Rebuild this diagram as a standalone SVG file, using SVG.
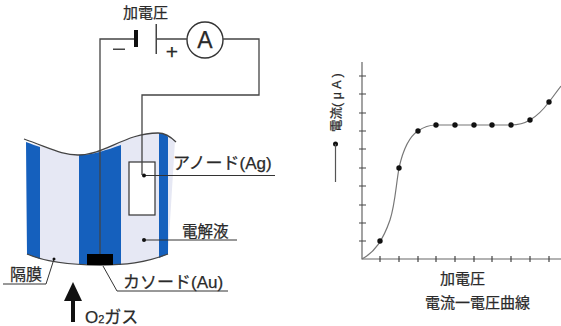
<svg xmlns="http://www.w3.org/2000/svg" width="561" height="326" viewBox="0 0 561 326">
<style>
text{font-family:"Liberation Sans","Noto Sans CJK JP",sans-serif;fill:#2a2a2a;stroke:#2a2a2a;stroke-width:.25}
.w{fill:none;stroke:#444;stroke-width:1.3}
.l{fill:none;stroke:#333;stroke-width:1}
.t{stroke:#444;stroke-width:1.2}
.d{fill:#111;stroke:none}
</style>
<rect width="561" height="326" fill="#fff"/>
<g id="membrane-cell">
<path d="M26 142C50 148 62 155 78 155C105 155 125 133 158 133C165 133 170 136 175 141L168 254C145 263 125 265 100 265C70 265 45 262 27 254Z" fill="#e6e8f4"/>
<path d="M26 142C32 144 36 146 40 147V259L27 254Z" fill="#1560bd"/>
<path d="M79 155C92 155 107 150 121 145V265L100 265L79 264Z" fill="#1560bd"/>
<path d="M159 133C163 133 166 134 168 137V254L159 258Z" fill="#1560bd"/>
<path d="M24 139C50 148 62 155 78 155C105 155 125 133 158 133C165 133 170 136 176 142" class="w"/>
<path d="M27 254C45 262 70 265 100 265C125 265 145 263 168 254" class="w"/>
</g>
<g id="anode"><rect x="129" y="162" width="26" height="53" fill="#fff" stroke="#333" stroke-width="1.2"/></g>
<g id="cathode"><rect x="87" y="254" width="26" height="11" fill="#000"/></g>
<g id="ammeter"><circle cx="205" cy="40" r="18" fill="#fff" stroke="#333" stroke-width="1.4"/><text x="205" y="48" text-anchor="middle" font-size="23">A</text></g>
<g id="battery"><rect x="134" y="30" width="4" height="17" fill="#111"/><rect x="155.500" y="24" width="1.500" height="30" fill="#444"/></g>
<g id="connectors">
<path class="w" d="M134 39H100V254"/>
<path class="w" d="M157 39H187M223 39H259V95H142V175"/>
<path class="l" d="M144 175.500H275"/><circle class="d" cx="144" cy="175.500" r="2"/>
<path class="l" d="M144 240H237"/><circle class="d" cx="144" cy="240" r="2"/>
<path class="l" d="M3 284H46L54 259"/><circle class="d" cx="54" cy="259" r="1.500"/>
<path class="l" d="M103 266L117 291H228"/>
<path d="M73 322V300" stroke="#111" stroke-width="4"/><path d="M64 301L73 282L82 301Z" fill="#111"/>
</g>
<g id="labels">
<text x="123" y="18" font-size="15">加電圧</text>
<rect x="113" y="48.500" width="12" height="1.500" fill="#444"/>
<text x="172" y="59" text-anchor="middle" font-size="21">+</text>
<text x="173" y="169" font-size="17">アノード(Ag)</text>
<text x="182" y="237" font-size="15.500">電解液</text>
<text x="10" y="280" font-size="16">隔膜</text>
<text x="123" y="288" font-size="17">カソード(Au)</text>
<text x="85" y="323" font-size="17">O<tspan font-size="11">2</tspan>ガス</text>
</g>
<g id="chart">
<path d="M362 62V259H561" fill="none" stroke="#666" stroke-width="1.200"/>
<path class="t" d="M359 76h7M359 94h7M359 113h7M359 131h7M359 149h7M359 168h7M359 186h7M359 205h7M359 223h7M359 241h7M380 256v6M399 256v6M418 256v6M436 256v6M455 256v6M474 256v6M492 256v6M511 256v6M530 256v6M549 256v6"/>
<path d="M362 259C375 252 383 240 390 220C395 205 396 185 399 168C403 150 410 136 418 131C425 126 430 125 436 125H511C520 125 525 123 530 120C537 116 543 110 549 102C553 97 557 91 561 86" fill="none" stroke="#777" stroke-width="1.200"/>
<g class="d"><circle cx="380" cy="241" r="2.700"/><circle cx="399" cy="168" r="2.700"/><circle cx="418" cy="131" r="2.700"/><circle cx="436" cy="125" r="2.700"/><circle cx="455" cy="125" r="2.700"/><circle cx="474" cy="125" r="2.700"/><circle cx="492" cy="125" r="2.700"/><circle cx="511" cy="125" r="2.700"/><circle cx="530" cy="120" r="2.700"/><circle cx="549" cy="102" r="2.700"/></g>
<text transform="translate(341 132) rotate(-90)" font-size="12.500">電流( μ A )</text>
<circle class="d" cx="335.500" cy="144" r="2.500"/><path d="M335.500 144V182" stroke="#555" stroke-width="1.200"/>
<text x="440" y="284" font-size="15">加電圧</text>
<text x="425" y="308" font-size="15">電流一電圧曲線</text>
</g>
</svg>
